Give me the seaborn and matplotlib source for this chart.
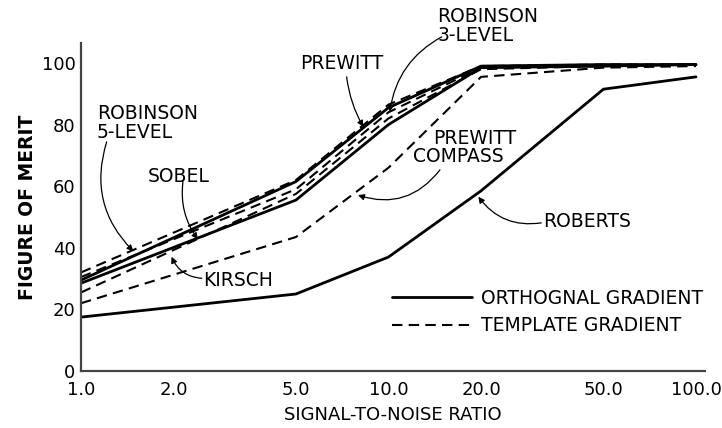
import matplotlib
matplotlib.use("Agg")
import matplotlib.pyplot as plt
import seaborn as sns
import pandas as pd
from matplotlib.lines import Line2D

# ---- data ----
snr = [1.0, 5.0, 10.0, 20.0, 50.0, 100.0]
prewitt = [29.5, 61.5, 85.5, 99.0, 99.5, 99.5]
sobel = [28.5, 55.5, 80.0, 98.5, 99.0, 99.5]
roberts = [17.5, 25.0, 37.0, 58.5, 91.5, 95.5]
robinson5 = [32.0, 62.0, 86.5, 99.0, 99.5, 99.5]
robinson3 = [30.5, 59.0, 84.0, 98.5, 99.0, 99.5]
kirsch = [25.5, 57.5, 82.0, 98.0, 99.0, 99.5]
prewitt_compass = [22.0, 43.5, 66.0, 95.5, 98.5, 99.0]

x_ticks = [1, 2, 5, 10, 20, 50, 100]
x_tick_labels = ["1.0", "2.0", "5.0", "10.0", "20.0", "50.0", "100.0"]
y_ticks = [0, 20, 40, 60, 80, 100]
y_tick_labels = ["0", "20", "40", "60", "80", "100"]
legend_labels = ["ORTHOGNAL GRADIENT", "TEMPLATE GRADIENT"]

series = {
    "PREWITT": (prewitt, "solid"),
    "SOBEL": (sobel, "solid"),
    "ROBERTS": (roberts, "solid"),
    "ROBINSON 5-LEVEL": (robinson5, "dashed"),
    "ROBINSON 3-LEVEL": (robinson3, "dashed"),
    "KIRSCH": (kirsch, "dashed"),
    "PREWITT COMPASS": (prewitt_compass, "dashed"),
}

sns.set_theme(style="white")
plt.rcParams["font.family"] = ["DejaVu Sans"]
plt.rcParams["text.color"] = "black"
plt.rcParams["axes.labelcolor"] = "black"
plt.rcParams["xtick.color"] = "black"
plt.rcParams["ytick.color"] = "black"

fig = plt.figure(figsize=(7.22, 4.28), dpi=100)
ax = fig.add_axes([81 / 722, 1 - 371 / 428, (705 - 81) / 722, (371 - 43) / 428])

for name, (vals, kind) in series.items():
    df = pd.DataFrame({"snr": snr, "fom": vals})
    sns.lineplot(data=df, x="snr", y="fom", ax=ax, color="black",
                 lw=2.0 if kind == "solid" else 1.5, legend=False)
    line = ax.lines[-1]
    if kind == "dashed":
        line.set_dashes((5, 3))

ax.set_xscale("log")
ax.set_xlim(1, 107)
ax.set_ylim(0, 106.5)
ax.set_xticks(x_ticks)
ax.set_xticklabels(x_tick_labels)
ax.minorticks_off()
ax.set_yticks(y_ticks)
ax.set_yticklabels(y_tick_labels)
ax.tick_params(axis="both", direction="in", length=9, width=1.3, colors="black",
               labelsize=13)
ax.tick_params(axis="x", pad=7)
ax.tick_params(axis="y", pad=4)

for s in ["top", "right"]:
    ax.spines[s].set_visible(False)
for s in ["left", "bottom"]:
    ax.spines[s].set_linewidth(1.6)
    ax.spines[s].set_color("#444444")

ax.set_xlabel("SIGNAL-TO-NOISE RATIO", fontsize=13, labelpad=5, color="black")
ax.set_ylabel("FIGURE OF MERIT", fontsize=13.5, fontweight="bold", labelpad=3,
              color="black")

fs = 13.5
arrow = dict(arrowstyle="-|>", color="black", lw=0.9, mutation_scale=9,
             shrinkA=0, shrinkB=0)

def label(text, x, y, ha="left"):
    ax.text(x, y, text, fontsize=fs, ha=ha, va="center", linespacing=1.0,
            color="black", clip_on=False)

def pointer(start, tip, rad):
    ax.annotate("", xy=tip, xytext=start,
                arrowprops=dict(arrow, connectionstyle=f"arc3,rad={rad}"),
                annotation_clip=False)

label("ROBINSON\n5-LEVEL", 1.125, 80.4)
pointer((1.212, 74.4), (1.48, 38.9), 0.3)

label("SOBEL", 1.65, 63.1)
pointer((2.146, 61.5), (2.40, 42.8), 0.2)

label("KIRSCH", 2.49, 29.5)
pointer((2.47, 30.1), (1.97, 37.1), -0.3)

label("PREWITT", 5.16, 99.7)
pointer((7.31, 95.5), (8.28, 79.3), 0.1)

label("ROBINSON\n3-LEVEL", 14.4, 112.0)
pointer((14.9, 108.5), (10.1, 84.2), 0.25)

label("PREWITT", 13.95, 75.6)
label("COMPASS", 12.0, 69.5)
pointer((14.7, 65.3), (7.96, 57.1), -0.35)

label("ROBERTS", 31.8, 48.5)
pointer((31.4, 48.1), (19.6, 56.6), -0.3)

handles = [Line2D([], [], color="black", lw=2.0),
           Line2D([], [], color="black", lw=1.5, dashes=(5, 3))]
leg = ax.legend(handles, legend_labels, loc="upper left",
                bbox_to_anchor=(391.7 / 722, 1 - 289 / 428),
                bbox_transform=fig.transFigure, frameon=False, fontsize=fs,
                handlelength=4.3, handletextpad=0.45, labelspacing=0.44,
                borderpad=0, borderaxespad=0)
for t in leg.get_texts():
    t.set_color("black")

fig.savefig("out.png", dpi=100)
